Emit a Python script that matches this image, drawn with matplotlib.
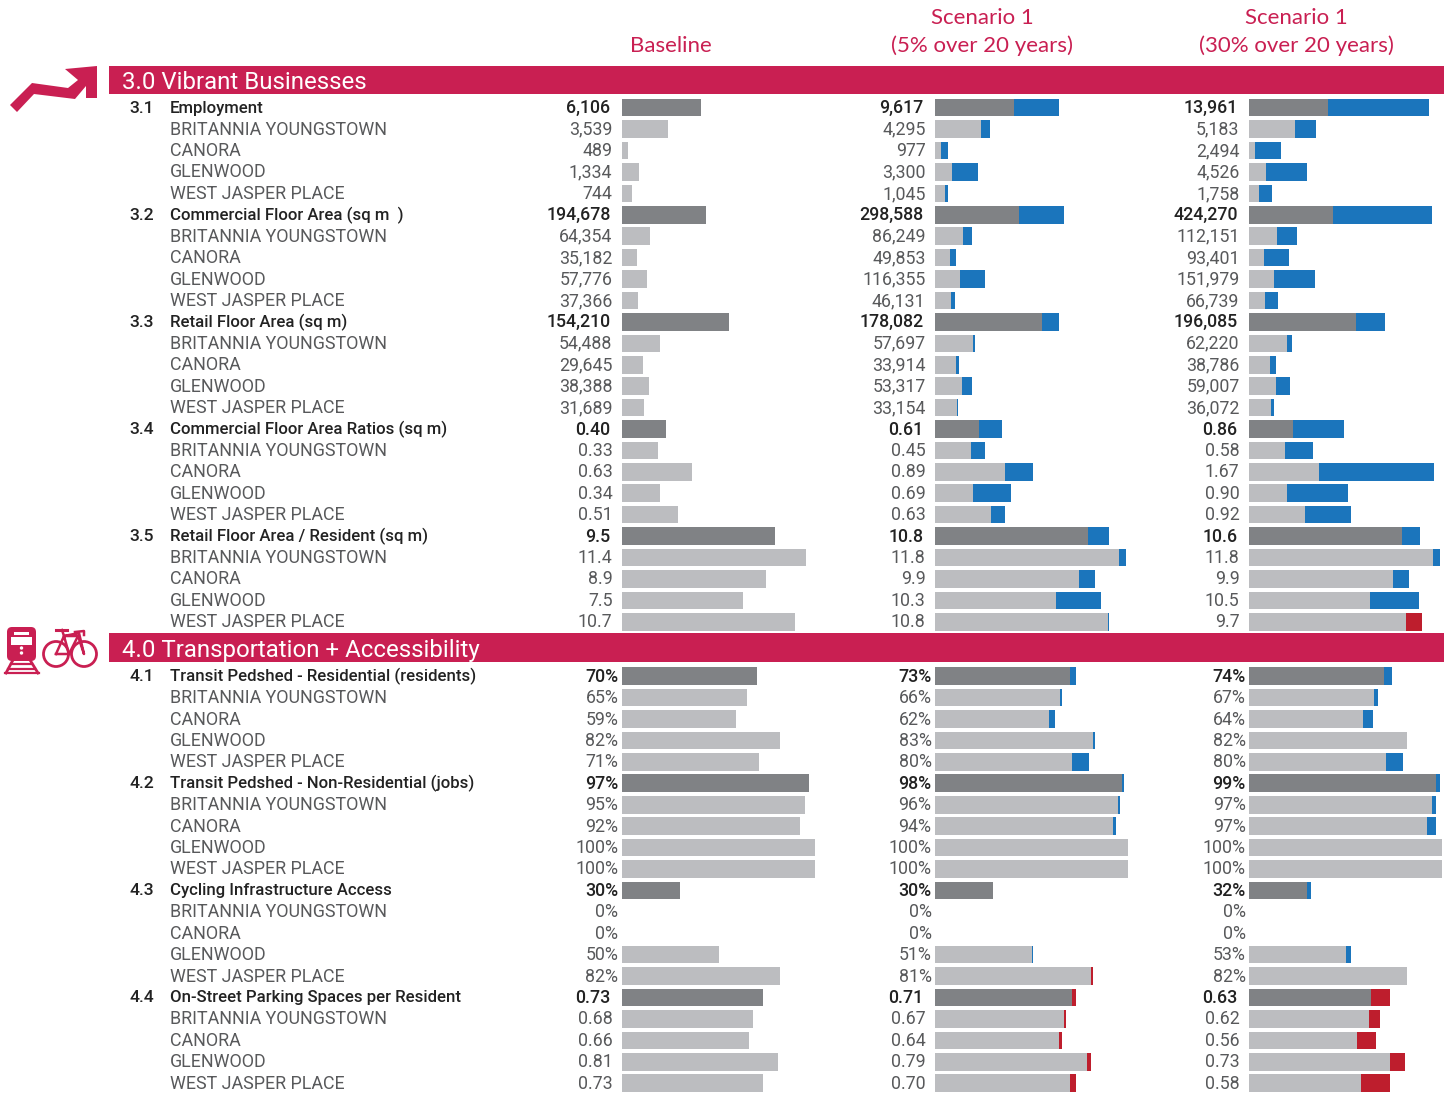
import matplotlib
matplotlib.use("Agg")
import matplotlib.pyplot as plt
from matplotlib.patches import Polygon, Rectangle, Circle, FancyBboxPatch

districts = ["BRITANNIA YOUNGSTOWN", "CANORA", "GLENWOOD", "WEST JASPER PLACE"]

section_titles = ["3.0 Vibrant Businesses", "4.0 Transportation + Accessibility"]
column_titles = [["Baseline"], ["Scenario 1", "(5% over 20 years)"], ["Scenario 1", "(30% over 20 years)"]]

# metric number, metric name
metrics_3 = [("3.1", "Employment"),
             ("3.2", "Commercial Floor Area (sq m  )"),
             ("3.3", "Retail Floor Area (sq m)"),
             ("3.4", "Commercial Floor Area Ratios (sq m)"),
             ("3.5", "Retail Floor Area / Resident (sq m)")]
metrics_4 = [("4.1", "Transit Pedshed - Residential (residents)"),
             ("4.2", "Transit Pedshed - Non-Residential (jobs)"),
             ("4.3", "Cycling Infrastructure Access"),
             ("4.4", "On-Street Parking Spaces per Resident")]

# total first, then the four districts
employment = [[6106, 3539, 489, 1334, 744], [9617, 4295, 977, 3300, 1045], [13961, 5183, 2494, 4526, 1758]]
commercial = [[194678, 64354, 35182, 57776, 37366], [298588, 86249, 49853, 116355, 46131],
              [424270, 112151, 93401, 151979, 66739]]
retail = [[154210, 54488, 29645, 38388, 31689], [178082, 57697, 33914, 53317, 33154],
          [196085, 62220, 38786, 59007, 36072]]
far = [[0.40, 0.33, 0.63, 0.34, 0.51], [0.61, 0.45, 0.89, 0.69, 0.63], [0.86, 0.58, 1.67, 0.90, 0.92]]
retail_res = [[9.5, 11.4, 8.9, 7.5, 10.7], [10.8, 11.8, 9.9, 10.3, 10.8], [10.6, 11.8, 9.9, 10.5, 9.7]]
pedshed_res = [[70, 65, 59, 82, 71], [73, 66, 62, 83, 80], [74, 67, 64, 82, 80]]
pedshed_jobs = [[97, 95, 92, 100, 100], [98, 96, 94, 100, 100], [99, 97, 97, 100, 100]]
cycling = [[30, 0, 0, 50, 82], [30, 0, 0, 51, 81], [32, 0, 0, 53, 82]]
parking = [[0.73, 0.68, 0.66, 0.81, 0.73], [0.71, 0.67, 0.64, 0.79, 0.70], [0.63, 0.62, 0.56, 0.73, 0.58]]

W, H = 1448, 1093
CRIMSON = "#C91F52"
DARK = "#808285"
LIGHT = "#BCBDC0"
BLUE = "#1B75BC"
RED = "#BE1E2D"
TXT = "#58595B"
FONT = ["Roboto", "DejaVu Sans"]

col_x = [622, 935, 1249]
col_w = 200
row_h = 21.42
bar_h = 17.6

# each block: metric, data, number format, px per unit
block_3 = [(metrics_3[0], employment, "{:,.0f}", 0.0129),
           (metrics_3[1], commercial, "{:,.0f}", 0.000431),
           (metrics_3[2], retail, "{:,.0f}", 0.000694),
           (metrics_3[3], far, "{:.2f}", 110.5),
           (metrics_3[4], retail_res, "{:.1f}", 16.15)]
block_4 = [(metrics_4[0], pedshed_res, "{:.0f}%", 1.93),
           (metrics_4[1], pedshed_jobs, "{:.0f}%", 1.93),
           (metrics_4[2], cycling, "{:.0f}%", 1.93),
           (metrics_4[3], parking, "{:.2f}", 193)]

fig = plt.figure(figsize=(W / 100, H / 100), dpi=100)
bg = fig.add_axes([0, 0, 1, 1])
bg.set_xlim(0, W)
bg.set_ylim(H, 0)
bg.axis("off")

col_axes = []
for x in col_x:
    ax = fig.add_axes([x / W, 0, col_w / W, 1])
    ax.set_xlim(0, col_w)
    ax.set_ylim(H, 0)
    ax.axis("off")
    ax.patch.set_alpha(0)
    col_axes.append(ax)

# headers
for x, title in zip(col_x, column_titles):
    cx = x + 49 if len(title) == 1 else x + 47
    lines = title[::-1]
    for j, line in enumerate(lines):
        bg.text(cx, 45.5 - j * 27, line, color=CRIMSON, fontsize=16.0, family=["Lato", "DejaVu Sans"],
                ha="center", va="center")

# section bands
for (y0, y1), title in zip([(66, 94), (633, 662)], section_titles):
    bg.add_patch(Rectangle((109, y0), 1335, y1 - y0, color=CRIMSON, lw=0))
    bg.text(122, (y0 + y1) / 2 + 2.5, title, color="white", fontsize=17.3, family=FONT,
            ha="left", va="center")


def draw_block(block, y_start):
    y = y_start
    for (num, name), data, fmt, scale in block:
        bg.text(129, y + 0.5, num, fontsize=12.6, family=FONT, color="#222222", fontweight="medium",
                ha="left", va="center")
        for r in range(5):
            total = r == 0
            label = name if total else districts[r - 1]
            bg.text(170, y + 0.5, label, fontsize=12.85 if not total else 12.05, family=FONT,
                    color="#222222" if total else TXT,
                    fontweight="medium" if total else "normal", ha="left", va="center")
            base = data[0][r]
            for c in range(3):
                val = data[c][r]
                text = fmt.format(val)
                off = 3.5 if text.endswith("%") else (11.5 if total else 9.5)
                bg.text(col_x[c] - off, y + 0.5, text, fontsize=12.8, family=FONT,
                        color="#222222" if total else TXT,
                        fontweight="medium" if total else "normal", ha="right", va="center")
                grey = min(base, val)
                ax = col_axes[c]
                ax.barh(y, grey * scale, height=bar_h, color=DARK if total else LIGHT, lw=0)
                if val != base:
                    ax.barh(y, abs(val - base) * scale, left=grey * scale, height=bar_h,
                            color=BLUE if val > base else RED, lw=0)
            y += row_h


draw_block(block_3, 107.7)
draw_block(block_4, 676.2)

# arrow icon
bg.add_patch(Polygon([(10, 105), (32, 83), (68, 88), (78, 80), (65, 69), (97, 66), (97, 98), (86, 98),
                      (86, 86), (75, 99), (34, 94), (17, 112)], color=CRIMSON, lw=0))

# train icon
bg.add_patch(FancyBboxPatch((9, 629), 25, 30, boxstyle="round,pad=2,rounding_size=5", color=CRIMSON, lw=0))
bg.add_patch(Rectangle((14, 632), 15, 3, color="white", lw=0))
bg.add_patch(Rectangle((11, 637), 21, 8, color="white", lw=0))
bg.add_patch(Circle((21.5, 648), 1.7, color="white", lw=0))
bg.add_patch(Circle((21.5, 653), 1.7, color="white", lw=0))
bg.plot([13, 6], [660, 673], color=CRIMSON, lw=2)
bg.plot([30, 38], [660, 673], color=CRIMSON, lw=2)
for yy, x0, x1 in [(664, 11, 32), (669, 8, 35), (673, 5, 39)]:
    bg.plot([x0, x1], [yy, yy], color=CRIMSON, lw=1.6)

# bike icon
for cx in (56, 84):
    bg.add_patch(Circle((cx, 654), 12.5, fill=False, ec=CRIMSON, lw=2))
bg.plot([56, 64, 78, 84, 79, 64, 69], [654, 636, 636, 654, 633, 636, 654], color=CRIMSON, lw=1.8)
bg.plot([56, 69, 78], [654, 654, 636], color=CRIMSON, lw=1.8)
bg.plot([56, 67], [630, 630], color=CRIMSON, lw=2.2)
bg.plot([62, 64], [630, 636], color=CRIMSON, lw=1.8)
bg.plot([75, 84, 84], [632, 631, 635], color=CRIMSON, lw=1.8)

fig.savefig("out.png", dpi=100)
